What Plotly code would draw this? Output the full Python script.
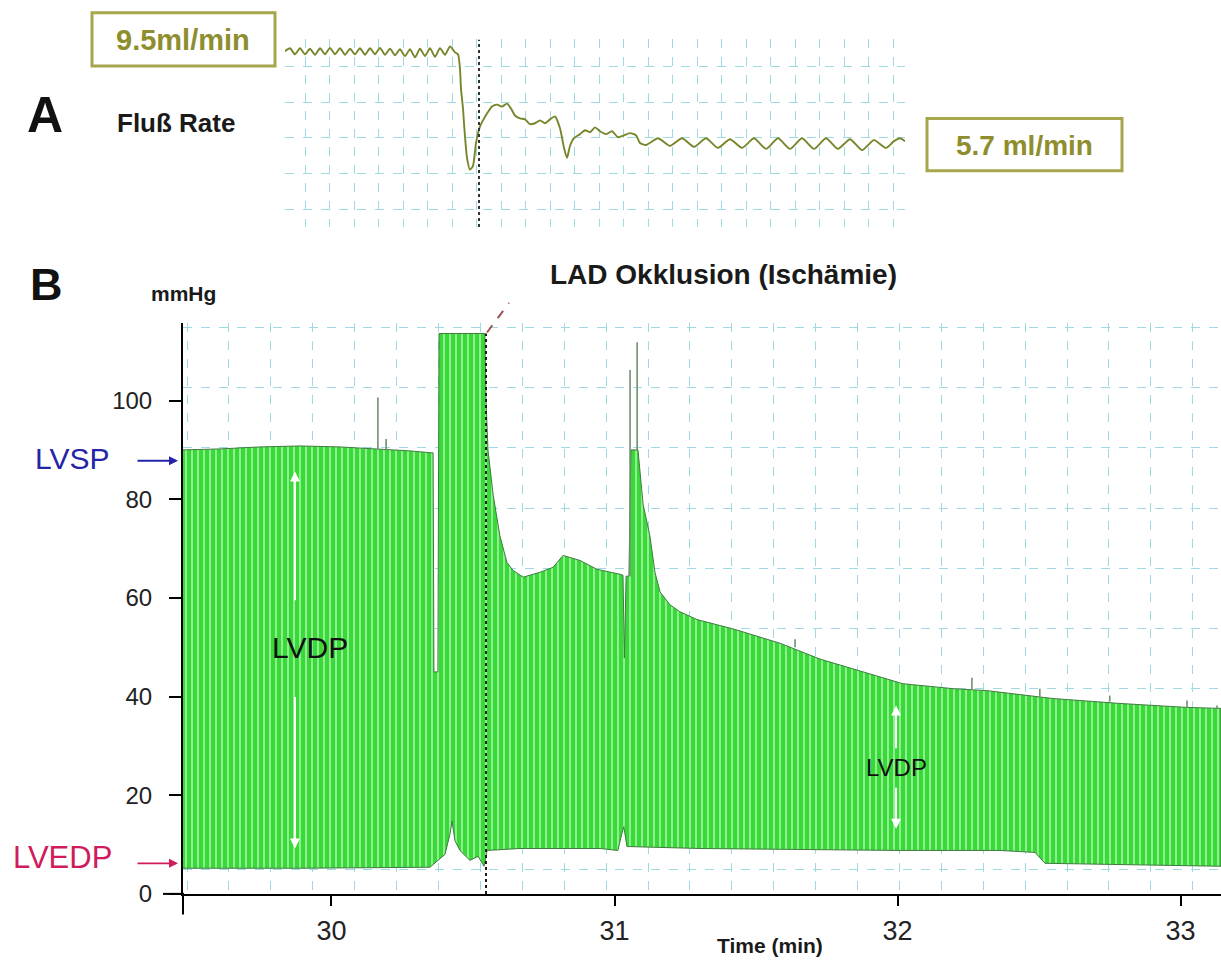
import plotly.graph_objects as go

# ---------------- data ----------------
occlusion_time = 30.546  # min, LAD occlusion

# Panel A: coronary flow (ml/min)
flow_time = [
    29.576, 29.601, 29.626, 29.651, 29.676, 29.701, 29.726, 29.751, 29.776, 29.801,
    29.826, 29.851, 29.876, 29.901, 29.926, 29.951, 29.976, 30.001, 30.026, 30.051,
    30.076, 30.101, 30.126, 30.151, 30.176, 30.201, 30.226, 30.251, 30.276, 30.301,
    30.326, 30.351, 30.376, 30.401, 30.426,
    30.441, 30.451, 30.456, 30.466, 30.471, 30.486, 30.501, 30.516, 30.531, 30.551,
    30.566, 30.586, 30.611, 30.636, 30.661, 30.686, 30.706, 30.726, 30.751, 30.776,
    30.801, 30.826, 30.851, 30.876, 30.901, 30.926, 30.951, 30.971, 30.986, 31.001,
    31.021, 31.051, 31.076, 31.101, 31.126, 31.151, 31.181, 31.211, 31.241, 31.271,
    31.301, 31.331, 31.351,
    31.381, 31.441, 31.501, 31.561, 31.621, 31.681, 31.741, 31.801, 31.861, 31.921,
    31.981, 32.041, 32.101, 32.161, 32.221, 32.281, 32.341, 32.401, 32.461, 32.521,
    32.581, 32.621, 32.651, 32.676,
]
flow_rate = [
    9.50, 9.62, 9.37, 9.62, 9.37, 9.60, 9.35, 9.62, 9.37, 9.64,
    9.37, 9.62, 9.35, 9.60, 9.37, 9.62, 9.35, 9.62, 9.37, 9.64,
    9.35, 9.60, 9.33, 9.58, 9.30, 9.58, 9.25, 9.60, 9.30, 9.62,
    9.27, 9.62, 9.35, 9.70, 9.45,
    9.37, 8.76, 7.94, 7.13, 6.52, 5.09, 4.60, 4.76, 5.70, 6.39,
    6.64, 6.92, 7.21, 7.29, 7.21, 7.33, 7.13, 6.84, 6.72, 6.68,
    6.48, 6.52, 6.64, 6.52, 6.68, 6.80, 6.31, 5.50, 5.09, 5.58,
    5.90, 6.07, 6.23, 6.15, 6.35, 6.19, 6.07, 6.19, 5.94, 6.02,
    6.11, 6.02, 5.70,
    5.62, 5.90, 5.58, 5.90, 5.54, 5.90, 5.50, 5.86, 5.50, 5.90,
    5.46, 5.90, 5.46, 5.90, 5.46, 5.90, 5.46, 5.86, 5.41, 5.82,
    5.50, 5.78, 5.90, 5.78,
]
flow_before_label = "9.5ml/min"
flow_after_label = "5.7 ml/min"

# Panel B: left-ventricular pressure envelope (mmHg)
lvsp_time = [
    29.475, 29.606, 29.747, 29.889, 30.030, 30.171, 30.277, 30.355, 30.359, 30.362,
    30.376, 30.380, 30.542, 30.546, 30.553, 30.571, 30.595, 30.620, 30.641, 30.677,
    30.737, 30.783, 30.818, 30.878, 30.938, 31.019, 31.030, 31.035, 31.041, 31.051,
    31.058, 31.083, 31.101, 31.125, 31.143, 31.161, 31.196, 31.231, 31.292, 31.426,
    31.585, 31.726, 31.867, 32.019, 32.196, 32.316, 32.549, 32.786, 33.023, 33.143,
]
lvsp = [
    90.0, 90.2, 90.6, 90.8, 90.6, 90.2, 89.8, 89.4, 89.4, 45.0,
    45.0, 113.6, 113.6, 100.0, 90.0, 81.0, 72.6, 67.2, 65.6, 64.2,
    65.2, 66.2, 68.6, 67.6, 65.8, 64.8, 64.6, 47.8, 64.4, 64.4,
    90.0, 90.0, 79.0, 72.6, 65.2, 61.2, 58.6, 57.2, 55.6, 53.6,
    50.8, 47.6, 45.2, 42.6, 41.6, 41.2, 39.6, 38.6, 37.8, 37.6,
]
lvedp_time = [
    29.475, 29.889, 30.348, 30.369, 30.401, 30.419, 30.426, 30.436, 30.454, 30.489,
    30.518, 30.539, 30.550, 30.666, 30.949, 31.012, 31.026, 31.033, 31.044, 31.302,
    31.655, 32.009, 32.362, 32.486, 32.521, 32.715, 33.143,
]
lvedp = [
    5.2, 5.2, 5.4, 6.4, 8.0, 12.2, 14.8, 10.8, 8.8, 6.8,
    7.6, 5.6, 8.8, 9.2, 9.2, 8.8, 12.2, 13.6, 9.6, 9.2,
    9.0, 8.8, 8.8, 8.4, 6.2, 6.0, 5.6,
]
spike_time = [30.164, 30.193, 31.055, 31.080, 31.638, 32.263, 32.503, 32.750, 33.023, 33.129]
spike_base = [90.2, 90.0, 64.4, 90.0, 50.0, 41.5, 40.0, 39.0, 37.8, 37.6]
spike_peak = [100.6, 92.2, 106.2, 111.8, 51.6, 43.8, 41.6, 40.2, 39.2, 38.2]

# LVDP double-arrow anchors (time, tail, head)
lvdp_arrow_time = [29.871, 29.871, 31.995, 31.995]
lvdp_arrow_tail = [59.2, 40.2, 29.2, 21.8]
lvdp_arrow_head = [85.6, 9.2, 38.2, 13.2]
lvdp_label_time = [29.924, 31.995]
lvdp_label_value = [50.0, 25.6]
lvdp_label_size = [30, 24]

x_ticks = [30, 31, 32, 33]
y_ticks = [0, 20, 40, 60, 80, 100]

# ---------------- styling ----------------
W, H = 1221, 972
FONT = "Arial, Liberation Sans, Helvetica, sans-serif"
GRID = "#9fd9e2"
GREEN = "#38da38"
OLIVE = "#8e8e2e"


def px(x):
    return x / W


def py(y):
    return 1 - y / H


fig = go.Figure()

# green pressure band
poly_x = lvsp_time + lvedp_time[::-1]
poly_y = lvsp + lvedp[::-1]
fig.add_trace(go.Scatter(
    x=poly_x, y=poly_y, mode="lines", fill="toself",
    fillcolor=GREEN,
    fillpattern=dict(shape="|", bgcolor=GREEN, fgcolor="#f4fff4",
                     size=6, solidity=0.32),
    line=dict(color="#3f7a3f", width=1),
    hoverinfo="skip", showlegend=False, xaxis="x", yaxis="y"))

# narrow spikes
sx, sy = [], []
for t, b, p in zip(spike_time, spike_base, spike_peak):
    sx += [t, t, None]
    sy += [b, p, None]
fig.add_trace(go.Scatter(x=sx, y=sy, mode="lines",
                         line=dict(color="#6f8f6f", width=1.6),
                         hoverinfo="skip", showlegend=False,
                         xaxis="x", yaxis="y"))

# occlusion marker in B
fig.add_trace(go.Scatter(x=[occlusion_time, occlusion_time], y=[0, 113.6],
                         mode="lines",
                         line=dict(color="#1a1a1a", width=2, dash="dot"),
                         hoverinfo="skip", showlegend=False,
                         xaxis="x", yaxis="y"))

# Panel A flow trace
fig.add_trace(go.Scatter(x=flow_time, y=flow_rate, mode="lines",
                         line=dict(color="#76862a", width=1.9,
                                   shape="spline", smoothing=0.6),
                         hoverinfo="skip", showlegend=False,
                         xaxis="x2", yaxis="y2"))
fig.add_trace(go.Scatter(x=[occlusion_time, occlusion_time], y=[2.2306, 9.9857],
                         mode="lines",
                         line=dict(color="#333333", width=2, dash="dot"),
                         hoverinfo="skip", showlegend=False,
                         xaxis="x2", yaxis="y2"))

minor_style = dict(showgrid=True, gridcolor=GRID, griddash="dash",
                   gridwidth=1, ticks="")

fig.update_layout(
    width=W, height=H,
    margin=dict(l=0, r=0, t=0, b=0),
    paper_bgcolor="white", plot_bgcolor="white",
    font=dict(family=FONT, color="#222222"),
    showlegend=False,
    xaxis=dict(domain=[px(183), 1.0], range=[29.4753, 33.1431], anchor="y",
               showline=True, linecolor="black", linewidth=2,
               ticks="outside", ticklen=10, tickwidth=2, tickcolor="black",
               tickmode="array", tickvals=x_ticks,
               ticktext=[str(v) for v in x_ticks],
               tickfont=dict(size=27, family=FONT, color="#222222"),
               ticklabelstandoff=2,
               showgrid=False, zeroline=False,
               minor=dict(tick0=29.6378, dtick=0.14806, **minor_style)),
    yaxis=dict(domain=[py(906), py(327)], range=[0, 115.8], anchor="x",
               showline=True, linecolor="black", linewidth=2,
               ticks="outside", ticklen=12, tickwidth=2, tickcolor="black",
               tickmode="array", tickvals=y_ticks,
               ticktext=[str(v) for v in y_ticks],
               tickfont=dict(size=24, family=FONT, color="#222222"),
               ticklabelstandoff=12,
               showgrid=False, zeroline=False,
               minor=dict(tick0=5.0, dtick=12.2, **minor_style)),
    xaxis2=dict(domain=[px(285), px(905)], range=[29.576, 32.676], anchor="y2",
                showticklabels=False, ticks="", showline=False,
                showgrid=False, zeroline=False,
                minor=dict(tick0=29.676, dtick=0.1225, **minor_style)),
    yaxis2=dict(domain=[py(230), py(40)], range=[2.2306, 9.9857], anchor="x2",
                showticklabels=False, ticks="", showline=False,
                showgrid=False, zeroline=False,
                minor=dict(tick0=2.966, dtick=1.4755, **minor_style)),
)

shapes = [
    # axis overhangs
    dict(type="line", xref="paper", yref="paper", x0=px(163), x1=px(184),
         y0=py(906), y1=py(906), line=dict(color="black", width=2)),
    dict(type="line", xref="paper", yref="paper", x0=px(183), x1=px(183),
         y0=py(905), y1=py(927), line=dict(color="black", width=2)),
    # flow boxes
    dict(type="rect", xref="paper", yref="paper", x0=px(92), x1=px(275),
         y0=py(67), y1=py(13), line=dict(color="#a6a64c", width=3),
         fillcolor="white"),
    dict(type="rect", xref="paper", yref="paper", x0=px(927), x1=px(1122),
         y0=py(173), y1=py(120), line=dict(color="#a6a64c", width=3),
         fillcolor="white"),
    # leader from LAD label
    dict(type="line", xref="paper", yref="paper", x0=px(487), x1=px(509),
         y0=py(337), y1=py(307), line=dict(color="#a05050", width=2, dash="dash")),
]
fig.update_layout(shapes=shapes)

ann = []


def text(x, y, s, size, color="#111111", bold=False, family=FONT,
         xanchor="center"):
    ann.append(dict(x=px(x), y=py(y), xref="paper", yref="paper",
                    text=f"<b>{s}</b>" if bold else s, showarrow=False,
                    xanchor=xanchor, yanchor="middle",
                    font=dict(size=size, color=color, family=family)))


text(45, 117, "A", 50, "#111111", bold=True)
text(46, 288, "B", 45, "#111111", bold=True)
text(176, 125, "Fluß Rate", 26, "#1a1a1a", bold=True)
text(183, 41, flow_before_label, 29, OLIVE, bold=True)
text(1024, 147, flow_after_label, 28, OLIVE, bold=True)
text(183, 297, "mmHg", 21, "#1a1a1a", bold=True)
text(723, 278, "LAD Okklusion (Ischämie)", 28, "#1a1a1a", bold=True)
text(72, 465, "LVSP", 30, "#2424a8")
text(63, 869, "LVEDP", 31, "#d01c5c")
text(770, 958, "Time (min)", 21, "#1a1a1a", bold=True,
     family="Liberation Sans Narrow, Arial Narrow, " + FONT)

# side arrows
for yy, col in [(467, "#2424a8"), (875, "#d01c5c")]:
    ann.append(dict(x=px(178), y=py(yy), xref="paper", yref="paper",
                    ax=-42, ay=0, text="", showarrow=True, arrowhead=2,
                    arrowsize=1, arrowwidth=1.8, arrowcolor=col, standoff=0))

# LVDP labels and white arrows
for t, v, s in zip(lvdp_label_time, lvdp_label_value, lvdp_label_size):
    ann.append(dict(x=t, y=v, xref="x", yref="y", text="LVDP", showarrow=False,
                    font=dict(size=s, color="#111111", family=FONT)))
for t, tail, head in zip(lvdp_arrow_time, lvdp_arrow_tail, lvdp_arrow_head):
    ann.append(dict(x=t, y=head, xref="x", yref="y", axref="x", ayref="y",
                    ax=t, ay=tail, text="", showarrow=True, arrowhead=2,
                    arrowsize=1, arrowwidth=2, arrowcolor="white", standoff=0))

fig.update_layout(annotations=ann)

fig.write_html("out.html")
